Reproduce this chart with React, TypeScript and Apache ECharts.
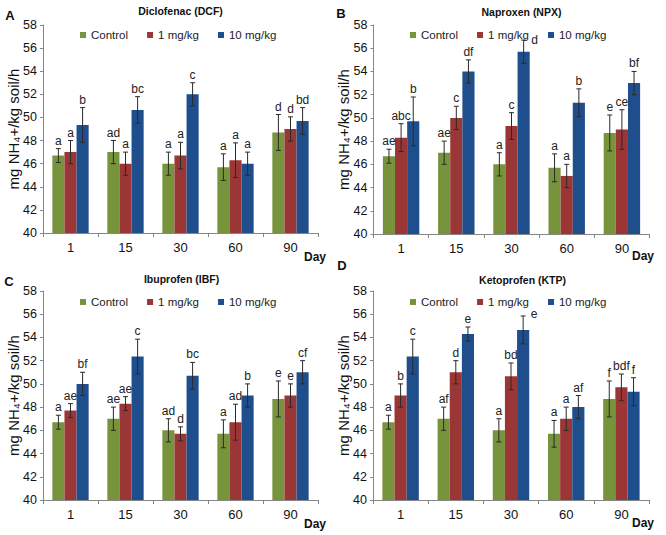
import React, { useEffect, useRef } from "react";
import * as echarts from "echarts";

const days = ["1", "15", "30", "60", "90"];
const seriesNames = ["Control", "1 mg/kg", "10 mg/kg"];
const panelLetters = ["A", "B", "C", "D"];
const panelTitles = ["Diclofenac (DCF)", "Naproxen (NPX)", "Ibuprofen (IBF)", "Ketoprofen (KTP)"];
const yAxisTitle = "mg NH₄+/kg soil/h";
const xAxisTitle = "Day";

// Diclofenac
const dcfControl = [46.7, 47.0, 46.0, 45.7, 48.7];
const dcfLow = [47.0, 46.0, 46.7, 46.3, 49.0];
const dcfHigh = [49.35, 50.65, 52.0, 46.0, 49.7];
const dcfControlErr = [0.6, 1.0, 1.0, 1.15, 1.55];
const dcfLowErr = [1.0, 1.0, 1.15, 1.5, 1.05];
const dcfHighErr = [1.5, 1.15, 1.0, 1.0, 1.15];
const dcfControlSig = ["a", "ad", "a", "a", "d"];
const dcfLowSig = ["a", "a", "a", "a", "d"];
const dcfHighSig = ["b", "bc", "c", "a", "bd"];

// Naproxen
const npxControl = [46.7, 47.0, 46.0, 45.7, 48.7];
const npxLow = [48.3, 50.0, 49.3, 45.0, 49.0];
const npxHigh = [49.7, 54.0, 55.7, 51.3, 53.0];
const npxControlErr = [0.6, 1.0, 1.0, 1.2, 1.55];
const npxLowErr = [1.2, 1.0, 1.15, 1.0, 1.7];
const npxHighErr = [2.1, 1.0, 1.0, 1.2, 1.0];
const npxControlSig = ["ae", "ae", "a", "a", "e"];
const npxLowSig = ["abc", "c", "c", "a", "ce"];
const npxHighSig = ["b", "df", "d", "b", "bf"];

// Ibuprofen
const ibfControl = [46.7, 47.0, 46.0, 45.7, 48.7];
const ibfLow = [47.7, 48.3, 45.7, 46.7, 49.0];
const ibfHigh = [50.0, 52.35, 50.7, 49.0, 51.0];
const ibfControlErr = [0.6, 1.0, 1.0, 1.2, 1.55];
const ibfLowErr = [0.6, 0.6, 0.6, 1.55, 1.0];
const ibfHighErr = [1.0, 1.5, 1.15, 1.0, 1.0];
const ibfControlSig = ["a", "ae", "ad", "a", "e"];
const ibfLowSig = ["ae", "ae", "d", "ad", "e"];
const ibfHighSig = ["bf", "c", "bc", "b", "cf"];

// Ketoprofen
const ktpControl = [46.7, 47.0, 46.0, 45.7, 48.7];
const ktpLow = [49.0, 51.0, 50.65, 47.0, 49.7];
const ktpHigh = [52.35, 54.3, 54.65, 48.0, 49.33];
const ktpControlErr = [0.6, 1.0, 1.0, 1.15, 1.55];
const ktpLowErr = [1.0, 1.0, 1.15, 1.0, 1.15];
const ktpHighErr = [1.5, 0.6, 1.2, 1.0, 1.2];
const ktpControlSig = ["a", "af", "a", "a", "f"];
const ktpLowSig = ["b", "d", "bd", "a", "bdf"];
const ktpHighSig = ["c", "e", "e", "af", "f"];

const yMin = 40;
const yMax = 58;
const yStep = 2;

const panels = [
  { vals: [dcfControl, dcfLow, dcfHigh], errs: [dcfControlErr, dcfLowErr, dcfHighErr], sigs: [dcfControlSig, dcfLowSig, dcfHighSig] },
  { vals: [npxControl, npxLow, npxHigh], errs: [npxControlErr, npxLowErr, npxHighErr], sigs: [npxControlSig, npxLowSig, npxHighSig] },
  { vals: [ibfControl, ibfLow, ibfHigh], errs: [ibfControlErr, ibfLowErr, ibfHighErr], sigs: [ibfControlSig, ibfLowSig, ibfHighSig] },
  { vals: [ktpControl, ktpLow, ktpHigh], errs: [ktpControlErr, ktpLowErr, ktpHighErr], sigs: [ktpControlSig, ktpLowSig, ktpHighSig] },
];

const COLORS = ["#77933C", "#9B3636", "#1F4E8C"];
const FONT = "'Liberation Sans', Arial, Helvetica, sans-serif";
const GAP = 0.34;

// layout (pixels)
const grids = [
  { left: 43, top: 25, width: 275, height: 208 },
  { left: 373.5, top: 25, width: 276, height: 209 },
  { left: 43, top: 291, width: 275, height: 209 },
  { left: 373, top: 291, width: 276, height: 209 },
];
const legendPos = [
  { left: 80, top: 29 },
  { left: 410, top: 29 },
  { left: 80, top: 296 },
  { left: 410, top: 296 },
];
const titlePos = [
  [180.5, 11],
  [521.5, 11.5],
  [181.5, 278.7],
  [522.5, 279.7],
];
const letterPos = [
  [10, 15],
  [341, 13],
  [9, 281],
  [342, 265],
];
const dayPos = [
  [315, 257],
  [643, 256],
  [315, 524],
  [643, 523],
];
// label moved beside whisker (panel, series, day) -> [dx, dy]
const labelShift: Record<string, [number, number]> = {
  "1-2-2": [11, 8],
  "3-2-2": [11, 6],
};

function makeErrSeries(p: number, s: number) {
  const vals = panels[p].vals[s];
  const errs = panels[p].errs[s];
  const sigs = panels[p].sigs[s];
  return {
    type: "custom",
    xAxisIndex: p,
    yAxisIndex: p,
    silent: true,
    z: 10,
    clip: false,
    data: vals.map((v, i) => [i, v]),
    renderItem: (params: any, api: any) => {
      const i = params.dataIndex;
      const v = vals[i];
      const e = errs[i];
      const band = api.size([1, 0])[0];
      const barW = (band * (1 - GAP)) / 3;
      const cx = api.coord([i, v])[0] + (s - 1) * barW;
      const yTop = api.coord([i, v + e])[1];
      const yBot = api.coord([i, v - e])[1];
      const cap = 2.5;
      const st = { stroke: "#2a2a2a", lineWidth: 1 };
      const sh = labelShift[`${p}-${s}-${i}`] || [0, 0];
      return {
        type: "group",
        children: [
          { type: "line", shape: { x1: cx, y1: yTop, x2: cx, y2: yBot }, style: st },
          { type: "line", shape: { x1: cx - cap, y1: yTop, x2: cx + cap, y2: yTop }, style: st },
          { type: "line", shape: { x1: cx - cap, y1: yBot, x2: cx + cap, y2: yBot }, style: st },
          {
            type: "text",
            x: cx + sh[0],
            y: yTop - 2 + sh[1],
            style: {
              text: sigs[i],
              fill: "#222",
              font: `12px ${FONT}`,
              fontSize: 12,
              fontFamily: FONT,
              align: "center",
              verticalAlign: "bottom",
              textAlign: "center",
              textVerticalAlign: "bottom",
            },
          },
        ],
      };
    },
  };
}

export default function App() {
  const ref = useRef<HTMLDivElement>(null);
  useEffect(() => {
    if (!ref.current) return;
    const chart = echarts.init(ref.current, null, { renderer: "svg" });
    const series: any[] = [];
    for (let p = 0; p < 4; p++) {
      for (let s = 0; s < 3; s++) {
        series.push({
          type: "bar",
          name: seriesNames[s],
          xAxisIndex: p,
          yAxisIndex: p,
          data: panels[p].vals[s],
          barGap: "0%",
          barCategoryGap: `${GAP * 100}%`,
          itemStyle: { color: COLORS[s] },
        });
      }
    }
    for (let p = 0; p < 4; p++) for (let s = 0; s < 3; s++) series.push(makeErrSeries(p, s));

    const graphics: any[] = [];
    for (let p = 0; p < 4; p++) {
      graphics.push({
        type: "text",
        x: titlePos[p][0],
        y: titlePos[p][1],
        style: { text: panelTitles[p], font: `bold 10.5px ${FONT}`, fill: "#111", textAlign: "center", textVerticalAlign: "middle" },
      });
      graphics.push({
        type: "text",
        x: letterPos[p][0],
        y: letterPos[p][1],
        style: { text: panelLetters[p], font: `bold 13px ${FONT}`, fill: "#111", textAlign: "center", textVerticalAlign: "middle" },
      });
      graphics.push({
        type: "text",
        x: dayPos[p][0],
        y: dayPos[p][1],
        style: { text: xAxisTitle, font: `bold 12px ${FONT}`, fill: "#111", textAlign: "center", textVerticalAlign: "middle" },
      });
      graphics.push({
        type: "text",
        x: grids[p].left - 30,
        y: grids[p].top + grids[p].height / 2,
        rotation: Math.PI / 2,
        style: { text: yAxisTitle, font: `15px ${FONT}`, fill: "#111", textAlign: "center", textVerticalAlign: "middle" },
      });
    }

    chart.setOption({
      animation: false,
      textStyle: { fontFamily: FONT },
      grid: grids.map((g) => ({ ...g, containLabel: false })),
      legend: legendPos.map((l) => ({
        left: l.left,
        top: l.top,
        data: seriesNames,
        icon: "rect",
        itemWidth: 6,
        itemHeight: 6,
        itemGap: 19,
        padding: 0,
        selectedMode: false,
        textStyle: { fontSize: 11.5, color: "#222", fontFamily: FONT },
      })),
      xAxis: grids.map((_, p) => ({
        type: "category",
        gridIndex: p,
        data: days,
        axisLine: { lineStyle: { color: "#868686", width: 1 } },
        axisTick: { show: true, length: 4, lineStyle: { color: "#868686" } },
        axisLabel: { fontSize: 13, color: "#111", margin: 8, fontFamily: FONT },
        splitLine: { show: false },
      })),
      yAxis: grids.map((_, p) => ({
        type: "value",
        gridIndex: p,
        min: yMin,
        max: yMax,
        interval: yStep,
        axisLine: { show: true, lineStyle: { color: "#868686", width: 1 } },
        axisTick: { show: true, length: 3, lineStyle: { color: "#868686" } },
        axisLabel: { fontSize: 12.5, color: "#111", margin: 6, fontFamily: FONT },
        splitLine: { show: false },
      })),
      series,
      graphic: graphics,
    });
    return () => chart.dispose();
  }, []);
  return <div ref={ref} style={{ position: "absolute", left: 0, top: 0, width: 666, height: 535, background: "#fff" }} />;
}
